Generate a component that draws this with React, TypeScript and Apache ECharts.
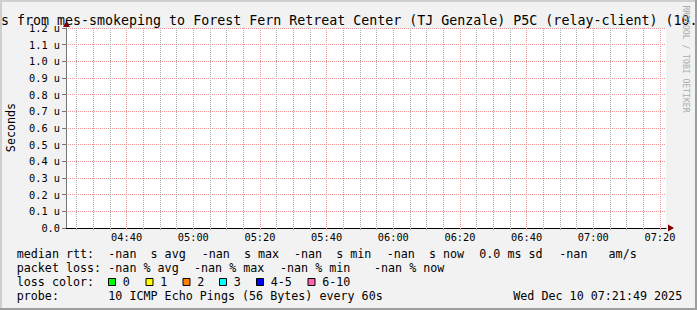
import React, { useEffect, useRef } from "react";
import * as echarts from "echarts";

// ---- data ----
const TITLE_TEXT =
  "s from mes-smokeping to Forest Fern Retreat Center (TJ Genzale) P5C (relay-client) (10.";
const START_TIME = "04:21:49"; // window start (3 hours before the graph time stamp)
const END_TIME = "07:21:49";
const xMajorLabels = ["04:40", "05:00", "05:20", "05:40", "06:00", "06:20", "06:40", "07:00", "07:20"];
const yMin = 0;
const yMax = 1.2; // micro-seconds
const yStep = 0.1;
// all probes returned NaN in this window: no median samples to plot
const medianRttSamples: [number, number | null][] = [];

const rttRowLabel = "median rtt:";
const rttItems = ["-nan  s avg", "-nan  s max", "-nan  s min", "-nan  s now", "0.0 ms sd", "-nan   am/s"];
const lossRowLabel = "packet loss:";
const lossItems = ["-nan % avg", "-nan % max", "-nan % min", "-nan % now"];
const lossColorLabel = "loss color:";
const lossColorNames = ["0", "1", "2", "3", "4-5", "6-10"];
const lossColorValues = ["#00ff00", "#ffff00", "#ff8000", "#00ffff", "#0000ff", "#ff62b0"];
const probeLabel = "probe:";
const probeText = "10 ICMP Echo Pings (56 Bytes) every 60s";
const stampText = "Wed Dec 10 07:21:49 2025";
const yAxisName = "Seconds";
const watermark = "RRDTOOL / TOBI OETIKER";

// ---- layout / style ----
const W = 697;
const H = 310;
const GL = 66;
const GT = 28;
const GW = 600;
const GH = 200;
const MONO = '"DejaVu Sans Mono", monospace';
const LEG_FS = 11.7;
const rowY = [253.8, 267.9, 282, 296.1];
const rttX = [108.3, 201.7, 294, 386.7, 479.3, 559.3];
const lossX = [108.3, 194, 280, 374];
const boxX = [108, 145.5, 182.5, 219, 256, 307.5];

const toMin = (s: string) => {
  const p = s.split(":").map(Number);
  return p[0] * 60 + p[1] + (p[2] || 0) / 60;
};
const pad = (n: number) => (n < 10 ? "0" : "") + n;
const fmtTime = (v: number) => {
  const r = Math.round(v);
  return pad(Math.floor(r / 60)) + ":" + pad(r % 60);
};

export default function App() {
  const ref = useRef<HTMLDivElement>(null);
  useEffect(() => {
    if (!ref.current) return;
    const chart = echarts.init(ref.current, null, { renderer: "svg", width: W, height: H });
    const xMin = toMin(START_TIME);
    const xMax = toMin(END_TIME);
    const majorVals = xMajorLabels.map(toMin);
    const minorVals: number[] = [];
    for (let m = Math.ceil(xMin / 5) * 5; m <= xMax; m += 5) {
      if (m % 20 !== 0) minorVals.push(m);
    }

    const txt = (x: number, y: number, text: string, extra: any = {}) => ({
      type: "text",
      x,
      y,
      silent: true,
      style: {
        text,
        fontFamily: MONO,
        fontSize: LEG_FS,
        fill: "#000",
        align: "left",
        verticalAlign: "middle",
        ...extra,
      },
    });

    const graphics: any[] = [
      // frame shading
      { type: "rect", shape: { x: 0, y: 0, width: W, height: 2 }, style: { fill: "#cfcfcf" }, silent: true },
      { type: "rect", shape: { x: 0, y: 0, width: 2, height: H }, style: { fill: "#cfcfcf" }, silent: true },
      { type: "rect", shape: { x: 0, y: H - 2, width: W, height: 2 }, style: { fill: "#9e9e9e" }, silent: true },
      { type: "rect", shape: { x: W - 2, y: 0, width: 2, height: H }, style: { fill: "#9e9e9e" }, silent: true },
      // title
      txt(1, 20, TITLE_TEXT, { fontSize: 13.3 }),
      // y axis name
      {
        type: "text",
        x: 10.5,
        y: 127.5,
        rotation: Math.PI / 2,
        silent: true,
        style: { text: yAxisName, fontFamily: MONO, fontSize: LEG_FS, fill: "#000", align: "center", verticalAlign: "middle" },
      },
      // watermark
      {
        type: "text",
        x: 686,
        y: 59,
        rotation: -Math.PI / 2,
        silent: true,
        style: { text: watermark, fontFamily: MONO, fontSize: 8.1, fill: "#ababab", align: "center", verticalAlign: "middle" },
      },
      // arrows
      {
        type: "polygon",
        silent: true,
        z: 10,
        shape: { points: [[668, 224.5], [674, 228], [668, 231.5]] },
        style: { fill: "#800000" },
      },
      {
        type: "polygon",
        silent: true,
        z: 10,
        shape: { points: [[63, 27], [66.5, 21], [70, 27]] },
        style: { fill: "#800000" },
      },
      // legend
      txt(16.7, rowY[0], rttRowLabel),
      ...rttItems.map((t, i) => txt(rttX[i], rowY[0], t)),
      txt(16.7, rowY[1], lossRowLabel),
      ...lossItems.map((t, i) => txt(lossX[i], rowY[1], t)),
      txt(16.7, rowY[2], lossColorLabel),
      ...lossColorNames.map((t, i) => txt(boxX[i] + 14.7, rowY[2], t)),
      ...lossColorValues.map((c, i) => ({
        type: "rect",
        silent: true,
        shape: { x: boxX[i] + 0.5, y: 278.5, width: 7, height: 7 },
        style: { fill: c, stroke: "#000", lineWidth: 1 },
      })),
      txt(16.7, rowY[3], probeLabel),
      txt(108.3, rowY[3], probeText),
      txt(513.3, rowY[3], stampText),
    ];

    chart.setOption({
      animation: false,
      backgroundColor: "#f2f2f2",
      grid: {
        left: GL,
        top: GT,
        width: GW,
        height: GH,
        show: true,
        backgroundColor: "#ffffff",
        borderWidth: 0,
      },
      xAxis: [
        {
          type: "value",
          min: xMin,
          max: xMax,
          position: "bottom",
          axisLine: { show: false },
          axisLabel: { show: false, customValues: minorVals },
          axisTick: { show: true, length: 2, lineStyle: { color: "#ababab" }, customValues: minorVals },
          splitLine: {
            show: true,
            customValues: minorVals,
            lineStyle: { color: "#ababab", type: [1, 1], width: 1 },
          },
        },
        {
          type: "value",
          min: xMin,
          max: xMax,
          position: "bottom",
          axisLine: { show: true, onZero: false, lineStyle: { color: "#000", width: 1 } },
          axisLabel: {
            show: true,
            customValues: majorVals,
            formatter: (v: number) => fmtTime(v),
            fontFamily: MONO,
            fontSize: 10.3,
            color: "#000",
            margin: 4,
            showMinLabel: true,
            showMaxLabel: true,
          },
          axisTick: { show: true, length: 2, lineStyle: { color: "#eb9595" }, customValues: majorVals },
          splitLine: {
            show: true,
            customValues: majorVals,
            lineStyle: { color: "#eb9595", type: [1, 1], width: 1 },
          },
        },
      ],
      yAxis: {
        type: "value",
        min: yMin,
        max: yMax,
        interval: yStep,
        axisLine: { show: true, lineStyle: { color: "#777", width: 1 } },
        axisTick: { show: true, length: 4, lineStyle: { color: "#777" } },
        axisLabel: {
          fontFamily: MONO,
          fontSize: 10.3,
          color: "#000",
          margin: 6,
          formatter: (v: number) => (Math.abs(v) < 1e-9 ? "0.0" : v.toFixed(1) + " u"),
        },
        splitLine: { show: true, lineStyle: { color: "#eb9595", type: [1, 1], width: 1 } },
      },
      series: [
        {
          type: "line",
          name: "median rtt",
          xAxisIndex: 0,
          data: medianRttSamples,
          showSymbol: false,
          lineStyle: { color: "#00a000" },
        },
      ],
      graphic: graphics,
    });
    return () => chart.dispose();
  }, []);
  return (
    <div
      ref={ref}
      style={{ position: "fixed", left: 0, top: 0, width: W, height: H }}
    />
  );
}
